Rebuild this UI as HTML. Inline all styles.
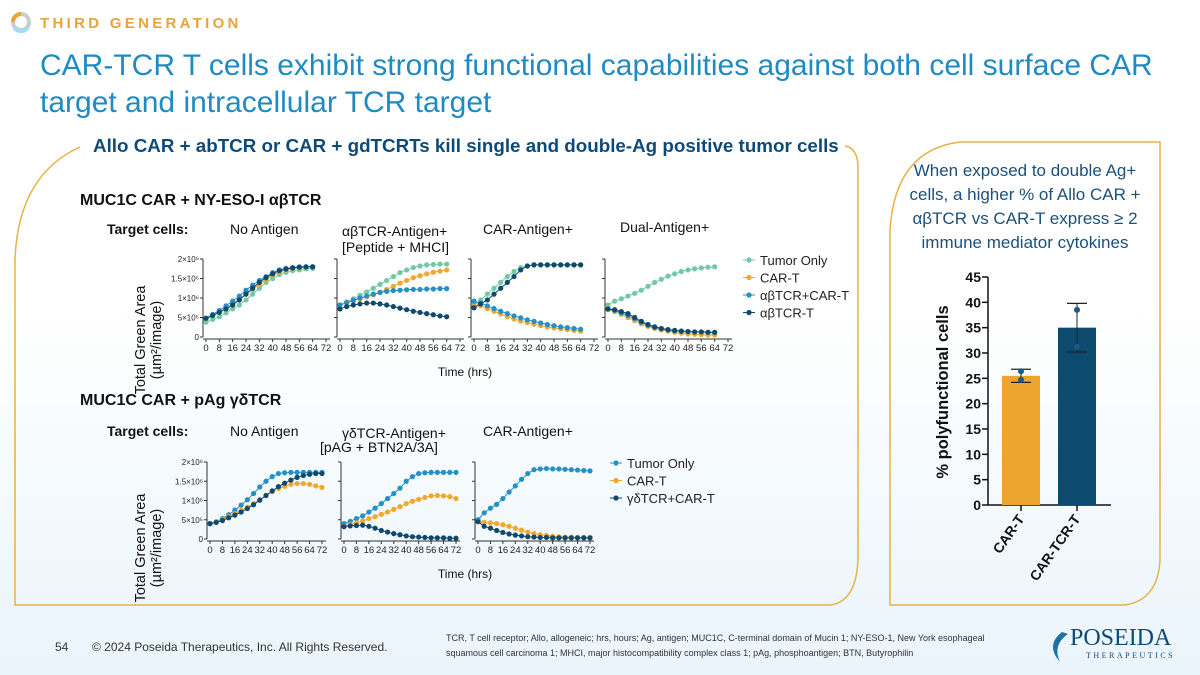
<!DOCTYPE html>
<html><head><meta charset="utf-8"><style>
html,body{margin:0;padding:0}
body{width:1200px;height:675px;overflow:hidden;background:linear-gradient(#ffffff 0%,#ffffff 45%,#eaf4fb 100%);font-family:"Liberation Sans",sans-serif;position:relative}
svg{position:absolute;left:0;top:0}
</style></head><body>
<svg id="s" width="1200" height="675" xmlns="http://www.w3.org/2000/svg">
<g>
<circle cx="21" cy="22" r="8" fill="none" stroke="#c8cdd2" stroke-width="4"/>
<path d="M13 22 A8 8 0 0 1 21 14" fill="none" stroke="#e8a33d" stroke-width="4"/>
<path d="M14 27 A8 8 0 0 0 28 27" fill="none" stroke="#a6dcef" stroke-width="4"/>
<text x="40" y="28" font-size="15" font-weight="bold" fill="#e8a33d" letter-spacing="3.3" font-family="Liberation Sans, sans-serif">THIRD GENERATION</text>
<text x="40" y="75" font-size="30" fill="#1f8bc3" font-family="Liberation Sans, sans-serif">CAR-TCR T cells exhibit strong functional capabilities against both cell surface CAR</text>
<text x="40" y="112" font-size="30" fill="#1f8bc3" font-family="Liberation Sans, sans-serif">target and intracellular TCR target</text>
<text x="93" y="152" font-size="18.8" font-weight="bold" fill="#0e4a78">Allo CAR + abTCR or CAR + gdTCRTs kill single and double-Ag positive tumor cells</text>
</g>
<path d="M80 147 Q18 175 15 260 L15 605 L830 605 Q856 602 858 560 L858 165 Q857 148 845 146" fill="none" stroke="#e8b048" stroke-width="1.5"/>
<path d="M960 142 L1160 142 L1160 560 Q1158 600 1125 605 L890 605 L890 230 Q895 150 960 142 Z" fill="none" stroke="#e8b048" stroke-width="1.5"/>
<g font-size="17" fill="#1b507c" text-anchor="middle">
<text x="1025" y="176">When exposed to double Ag+</text>
<text x="1025" y="200">cells, a higher % of Allo CAR +</text>
<text x="1025" y="224">αβTCR vs CAR-T express ≥ 2</text>
<text x="1025" y="248">immune mediator cytokines</text>
</g>
<g id="labels" font-family="Liberation Sans, sans-serif" fill="#111">
<text x="80" y="205" font-size="16" font-weight="bold">MUC1C CAR + NY-ESO-I αβTCR</text>
<text x="107" y="234" font-size="14" font-weight="bold">Target cells:</text>
<text x="230" y="234" font-size="14">No Antigen</text>
<text x="342" y="236" font-size="14">αβTCR-Antigen+</text>
<text x="342" y="252" font-size="14">[Peptide + MHCI]</text>
<text x="483" y="234" font-size="14">CAR-Antigen+</text>
<text x="620" y="232" font-size="14">Dual-Antigen+</text>
<text x="465" y="376" font-size="12" text-anchor="middle">Time (hrs)</text>
<text x="80" y="405" font-size="16" font-weight="bold">MUC1C CAR + pAg γδTCR</text>
<text x="107" y="436" font-size="14" font-weight="bold">Target cells:</text>
<text x="230" y="436" font-size="14">No Antigen</text>
<text x="342" y="438" font-size="14">γδTCR-Antigen+</text>
<text x="320" y="452" font-size="14">[pAG + BTN2A/3A]</text>
<text x="483" y="436" font-size="14">CAR-Antigen+</text>
<text x="465" y="578" font-size="12" text-anchor="middle">Time (hrs)</text>
<text transform="translate(145,340) rotate(-90)" font-size="14.5" text-anchor="middle">Total Green Area</text>
<text transform="translate(161,340) rotate(-90)" font-size="14.5" text-anchor="middle">(µm²/image)</text>
<text transform="translate(145,548) rotate(-90)" font-size="14.5" text-anchor="middle">Total Green Area</text>
<text transform="translate(161,548) rotate(-90)" font-size="14.5" text-anchor="middle">(µm²/image)</text>
</g>
<g id="charts"></g>
<g id="bar"></g>
<g fill="#333">
<text x="55" y="651" font-size="12">54</text>
<text x="92" y="651" font-size="12">© 2024 Poseida Therapeutics, Inc. All Rights Reserved.</text>
<text x="446" y="641" font-size="9">TCR, T cell receptor; Allo, allogeneic; hrs, hours; Ag, antigen; MUC1C, C-terminal domain of Mucin 1; NY-ESO-1, New York esophageal</text>
<text x="446" y="656" font-size="9">squamous cell carcinoma 1; MHCI, major histocompatibility complex class 1; pAg, phosphoantigen; BTN, Butyrophilin</text>
<path d="M1062 632 Q1045 645 1060 662 Q1052 645 1068 634 Z" fill="#1f6fa8"/>
<text x="1070" y="645" font-size="24" font-family="Liberation Serif, serif" fill="#0e4a78">POSEIDA</text>
<text x="1086" y="658" font-size="8" letter-spacing="2.5" font-family="Liberation Serif, serif" fill="#0e4a78">THERAPEUTICS</text>
</g>
</svg>
<script>
const NS="http://www.w3.org/2000/svg";
const topCategories=["Tumor Only","CAR-T","αβTCR+CAR-T","αβTCR-T"];
const bottomCategories=["Tumor Only","CAR-T","γδTCR+CAR-T"];
const topTimes=[0,4,8,12,16,20,24,28,32,36,40,44,48,52,56,60,64];
const bottomTimes=[0,4,8,12,16,20,24,28,32,36,40,44,48,52,56,60,64,68,72];
const xTickLabels=["0","8","16","24","32","40","48","56","64","72"];
const yTickLabels=["0","5×10⁵","1×10⁶","1.5×10⁶","2×10⁶"];
const yTickValues=[0,0.5,1,1.5,2];
// values in millions
const topNoAg=[[0.38,0.45,0.52,0.62,0.72,0.82,0.95,1.1,1.25,1.4,1.5,1.6,1.66,1.7,1.72,1.75,1.76],
[0.45,0.55,0.65,0.75,0.85,0.98,1.1,1.22,1.35,1.47,1.58,1.66,1.72,1.76,1.78,1.79,1.8],
[0.48,0.58,0.68,0.8,0.92,1.05,1.2,1.33,1.45,1.55,1.65,1.72,1.76,1.78,1.8,1.8,1.8],
[0.48,0.55,0.63,0.72,0.82,0.95,1.1,1.25,1.4,1.52,1.62,1.7,1.74,1.77,1.79,1.8,1.8]];
const topTcrAg=[[0.82,0.9,0.98,1.07,1.15,1.25,1.35,1.45,1.55,1.65,1.72,1.78,1.82,1.85,1.86,1.87,1.87],
[0.82,0.88,0.93,0.98,1.03,1.08,1.15,1.22,1.3,1.38,1.45,1.52,1.57,1.62,1.66,1.69,1.72],
[0.82,0.88,0.94,1.0,1.05,1.1,1.14,1.17,1.19,1.2,1.21,1.22,1.22,1.23,1.23,1.24,1.24],
[0.72,0.78,0.82,0.85,0.87,0.87,0.85,0.82,0.78,0.74,0.7,0.66,0.63,0.6,0.57,0.54,0.52]];
const topCarAg=[[0.8,0.95,1.1,1.25,1.4,1.55,1.68,1.78,1.82,1.85,1.85,1.85,1.85,1.85,1.85,1.85,1.85],
[0.88,0.8,0.73,0.66,0.59,0.52,0.46,0.41,0.37,0.33,0.29,0.26,0.23,0.21,0.19,0.17,0.15],
[0.92,0.87,0.8,0.73,0.66,0.6,0.54,0.49,0.44,0.4,0.36,0.32,0.29,0.26,0.24,0.22,0.2],
[0.75,0.85,0.95,1.1,1.25,1.4,1.55,1.72,1.82,1.85,1.85,1.85,1.85,1.85,1.85,1.85,1.85]];
const topDualAg=[[0.82,0.92,0.98,1.05,1.12,1.2,1.3,1.4,1.48,1.56,1.62,1.68,1.72,1.75,1.77,1.79,1.8],
[0.7,0.65,0.58,0.5,0.42,0.34,0.27,0.22,0.18,0.15,0.12,0.1,0.08,0.07,0.06,0.05,0.05],
[0.72,0.68,0.62,0.55,0.47,0.38,0.3,0.25,0.21,0.18,0.16,0.15,0.14,0.13,0.13,0.12,0.12],
[0.72,0.7,0.65,0.6,0.5,0.4,0.32,0.26,0.22,0.19,0.17,0.15,0.14,0.13,0.13,0.12,0.12]];
const botNoAg=[[0.4,0.45,0.53,0.63,0.75,0.88,1.02,1.18,1.35,1.5,1.62,1.7,1.72,1.73,1.73,1.73,1.73,1.73,1.73],
[0.4,0.44,0.5,0.58,0.66,0.74,0.83,0.92,1.02,1.13,1.23,1.31,1.37,1.42,1.44,1.44,1.42,1.38,1.34],
[0.4,0.43,0.48,0.55,0.62,0.7,0.79,0.89,1.01,1.13,1.25,1.36,1.45,1.53,1.6,1.65,1.68,1.7,1.7]];
const botTcrAg=[[0.4,0.46,0.53,0.6,0.7,0.8,0.92,1.05,1.18,1.32,1.5,1.62,1.7,1.72,1.73,1.73,1.73,1.73,1.73],
[0.33,0.37,0.42,0.47,0.53,0.58,0.64,0.7,0.77,0.84,0.92,0.98,1.03,1.08,1.12,1.13,1.12,1.1,1.05],
[0.32,0.34,0.35,0.36,0.33,0.28,0.22,0.18,0.14,0.11,0.08,0.06,0.05,0.04,0.03,0.03,0.03,0.02,0.02]];
const botCarAg=[[0.5,0.68,0.8,0.9,1.05,1.22,1.38,1.55,1.7,1.8,1.82,1.83,1.82,1.82,1.81,1.8,1.79,1.78,1.77],
[0.45,0.43,0.42,0.4,0.37,0.33,0.28,0.23,0.18,0.14,0.11,0.09,0.07,0.06,0.05,0.05,0.04,0.04,0.04],
[0.45,0.33,0.28,0.22,0.17,0.13,0.1,0.08,0.06,0.05,0.04,0.04,0.03,0.03,0.03,0.03,0.03,0.03,0.03]];
const barCategories=["CAR-T","CAR-TCR-T"];
const barValues=[25.5,35];
const barErrLow=[24.2,30.2];
const barErrHigh=[26.8,39.8];
const barPoints=[[24.7,26.4],[38.5,31.2]];
const barTicks=[0,5,10,15,20,25,30,35,40,45];

const topColors=["#72c9a6","#f0a830","#2490c8","#0f4a6e"];
const botColors=["#2490c8","#f0a830","#0f4a6e"];
function el(tag,attrs,parent){const e=document.createElementNS(NS,tag);for(const k in attrs)e.setAttribute(k,attrs[k]);parent.appendChild(e);return e;}
const charts=document.getElementById("charts");
function panel(x0,y0,w,h,times,series,colors,showY,name){
  const g=el("g",{},charts);
  
  
  const xs=t=>x0+t/72*w, ys=v=>y0-v/2*h;
  el("line",{x1:x0-3,y1:y0-h,x2:x0-3,y2:y0,stroke:"#333","stroke-width":1},g);
  el("line",{x1:x0-3,y1:y0+2,x2:x0+w+4,y2:y0+2,stroke:"#333","stroke-width":1},g);
  yTickValues.forEach((v,i)=>{el("line",{x1:x0-6,x2:x0-3,y1:ys(v),y2:ys(v),stroke:"#333"},g);
    if(showY){const t=el("text",{x:x0-7,y:ys(v)+3,"font-size":8,"text-anchor":"end",fill:"#222"},g);t.textContent=yTickLabels[i];}});
  xTickLabels.forEach(l=>{const t=+l;el("line",{x1:xs(t),x2:xs(t),y1:y0+2,y2:y0+5,stroke:"#333"},g);
    const tx=el("text",{x:xs(t),y:y0+14,"font-size":9.5,"text-anchor":"middle",fill:"#222"},g);tx.textContent=l;});
  series.forEach((s,si)=>{
    const pts=s.map((v,i)=>xs(times[i])+","+ys(v)).join(" ");
    const pl=el("polyline",{points:pts,fill:"none",stroke:colors[si],"stroke-width":1},g);
    
    
    s.forEach((v,i)=>{const c=el("circle",{cx:xs(times[i]),cy:ys(v),r:2.6,fill:colors[si]},g);
      
      });
  });
}
const tp=[topNoAg,topTcrAg,topCarAg,topDualAg];
tp.forEach((s,i)=>panel(206+i*134,337,120,78,topTimes,s,topColors,i==0,"top-panel-"+(i+1)));
const bp=[botNoAg,botTcrAg,botCarAg];
bp.forEach((s,i)=>panel(210+i*134,539,112,77,bottomTimes,s,botColors,i==0,"bottom-panel-"+(i+1)));
function legend(x,y,dy,cats,colors,name){
  const g=el("g",{},charts);
  
  
  cats.forEach((c,i)=>{const yy=y+i*dy;
    el("line",{x1:x,x2:x+12,y1:yy,y2:yy,stroke:colors[i]},g);
    el("circle",{cx:x+6,cy:yy,r:2.6,fill:colors[i]},g);
    const t=el("text",{x:x+17,y:yy+5,"font-size":13,fill:"#222"},g);t.textContent=c;
    
    });
}
legend(743,260,17.5,topCategories,topColors,"top-legend");
legend(610,463,17.5,bottomCategories,botColors,"bottom-legend");
// bar chart
const bg=document.getElementById("bar");


const bx0=988,by0=505,bh=228;
const bys=v=>by0-v/45*bh;
el("line",{x1:bx0,x2:bx0,y1:bys(45),y2:by0,stroke:"#111","stroke-width":1.5},bg);
el("line",{x1:bx0,x2:1111,y1:by0,y2:by0,stroke:"#111","stroke-width":1.5},bg);
barTicks.forEach(v=>{el("line",{x1:bx0-6,x2:bx0,y1:bys(v),y2:bys(v),stroke:"#111","stroke-width":1.5},bg);
  const t=el("text",{x:bx0-7,y:bys(v)+5,"font-size":14,"font-weight":"bold","text-anchor":"end",fill:"#111"},bg);t.textContent=v;});
const bcols=["#eca62e","#0d4a70"];
barCategories.forEach((c,i)=>{
  const cx=1021+i*56;
  const r=el("rect",{x:cx-19,y:bys(barValues[i]),width:38,height:by0-bys(barValues[i]),fill:bcols[i]},bg);
  
  
  el("line",{x1:cx,x2:cx,y1:bys(barErrLow[i]),y2:bys(barErrHigh[i]),stroke:"#222"},bg);
  el("line",{x1:cx-10,x2:cx+10,y1:bys(barErrLow[i]),y2:bys(barErrLow[i]),stroke:"#222","stroke-width":1.3},bg);
  el("line",{x1:cx-10,x2:cx+10,y1:bys(barErrHigh[i]),y2:bys(barErrHigh[i]),stroke:"#222","stroke-width":1.3},bg);
  barPoints[i].forEach(p=>el("circle",{cx:cx,cy:bys(p),r:3,fill:"#1a5a80"},bg));
  el("line",{x1:cx,x2:cx,y1:by0,y2:by0+6,stroke:"#111","stroke-width":1.5},bg);
  const t=el("text",{transform:`translate(${cx+4},${by0+14}) rotate(-55)`,"font-size":14,"font-weight":"bold","text-anchor":"end",fill:"#111"},bg);t.textContent=c;
});
const yt=el("text",{transform:"translate(948,392) rotate(-90)","font-size":16.5,"font-weight":"bold","text-anchor":"middle",fill:"#111"},bg);
yt.textContent="% polyfunctional cells";


</script>
</body></html>
